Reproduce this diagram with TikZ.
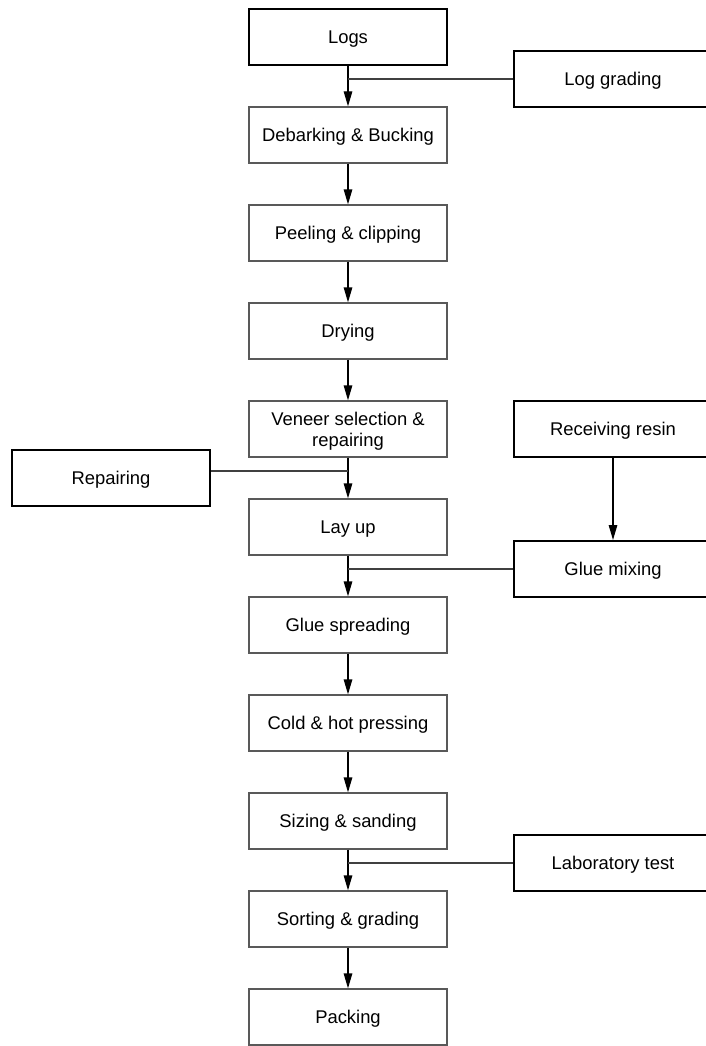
\documentclass[tikz,border=0pt]{standalone}
\usepackage{fontspec}
\setmainfont{Liberation Sans}
\usetikzlibrary{arrows.meta}
\begin{document}
\begin{tikzpicture}[x=1pt,y=-1pt,
 box/.style={draw=black!65, line width=1.3pt, minimum width=198pt, minimum height=56pt, inner sep=0pt, text depth=0pt, font=\fontsize{18.4}{21}\selectfont, align=center},
 boldbox/.style={box, draw=black, line width=2pt},
 flow/.style={draw=black, line width=1.3pt, -{Triangle[length=15pt,width=8.5pt]}},
 joinline/.style={draw=black!75, line width=1.2pt}]
\useasboundingbox (0,0) rectangle (706,1046);
\clip (0,0) rectangle (706,1046);
% main column
\node[boldbox] (logs) at (348,37) {Logs};
\node[box] (deb) at (348,135) {Debarking \& Bucking};
\node[box] (peel) at (348,233) {Peeling \& clipping};
\node[box] (dry) at (348,331) {Drying};
\node[box] (ven) at (348,429) {Veneer selection \&\\repairing};
\node[box] (lay) at (348,527) {Lay up};
\node[box] (glue) at (348,625) {Glue spreading};
\node[box] (press) at (348,723) {Cold \& hot pressing};
\node[box] (size) at (348,821) {Sizing \& sanding};
\node[box] (sort) at (348,919) {Sorting \& grading};
\node[box] (pack) at (348,1017) {Packing};
% side boxes
\node[boldbox] (lg) at (613,79) {Log grading};
\node[boldbox] (resin) at (613,429) {Receiving resin};
\node[boldbox] (mix) at (613,569) {Glue mixing};
\node[boldbox] (lab) at (613,863) {Laboratory test};
\node[boldbox] (rep) at (111,478) {Repairing};
% main flow
\draw[flow] (logs) -- (deb);
\draw[flow] (deb) -- (peel);
\draw[flow] (peel) -- (dry);
\draw[flow] (dry) -- (ven);
\draw[flow] (ven) -- (lay);
\draw[flow] (lay) -- (glue);
\draw[flow] (glue) -- (press);
\draw[flow] (press) -- (size);
\draw[flow] (size) -- (sort);
\draw[flow] (sort) -- (pack);
\draw[flow] (resin) -- (mix);
% side joins
\coordinate (j1) at (348,79);
\coordinate (j2) at (348,471);
\coordinate (j3) at (348,569);
\coordinate (j4) at (348,863);
\draw[joinline] (lg.west) -- (j1);
\draw[joinline] (rep.east |- j2) -- (j2);
\draw[joinline] (mix.west) -- (j3);
\draw[joinline] (lab.west) -- (j4);
\end{tikzpicture}
\end{document}
